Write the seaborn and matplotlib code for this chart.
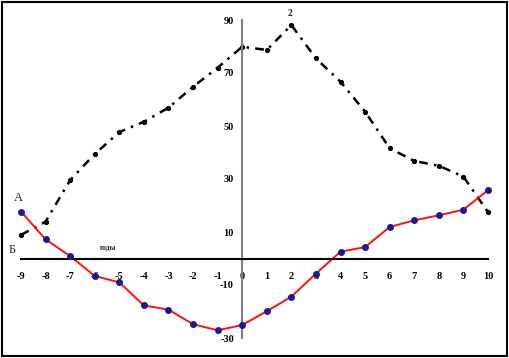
import numpy as np
import pandas as pd
import matplotlib
matplotlib.use("Agg")
import matplotlib.pyplot as plt
import seaborn as sns
from matplotlib.patches import Rectangle

sns.set_style("white")
plt.rcParams['font.family'] = ['Liberation Serif', 'DejaVu Serif']
plt.rcParams['axes.unicode_minus'] = False

years = [-9, -8, -7, -6, -5, -4, -3, -2, -1, 0, 1, 2, 3, 4, 5, 6, 7, 8, 9, 10]
series_a = [17.7, 7.2, 0.9, -6.6, -9.0, -17.7, -19.3, -24.8, -27.1, -25.1,
            -19.9, -14.4, -5.7, 2.6, 4.3, 11.9, 14.4, 16.3, 18.4, 25.8]
series_2 = [8.9, 13.9, 29.6, 39.4, 47.7, 51.6, 56.9, 64.8, 72.0, 79.9,
            78.7, 88.1, 75.5, 66.7, 55.4, 41.6, 36.8, 35.0, 30.9, 17.5]
y_ticks = [-30, -10, 10, 30, 50, 70, 90]

df = pd.DataFrame({"year": years, "a": series_a, "b": series_2})

fig = plt.figure(figsize=(5.09, 3.58), dpi=100)
ax = fig.add_axes([21 / 509, 1 - 338 / 358, 467 / 509, 318 / 358])

sns.lineplot(data=df, x="year", y="b", ax=ax, color="black", lw=1.8,
             linestyle=(0, (3.5, 2.5, 1, 2.5)), marker="o", markersize=3,
             markeredgecolor="black", clip_on=False)
sns.lineplot(data=df, x="year", y="a", ax=ax, color="#ff1010", lw=1.4,
             clip_on=False)
ax.plot(df["year"], df["a"], ls="none", marker="o", markersize=4,
        color="#1a1a8c", clip_on=False, zorder=5)

ax.set_xlim(-9, 10)
ax.set_ylim(-30, 90)
ax.set_xlabel("")
ax.set_ylabel("")

ax.spines["left"].set_position(("data", 0))
ax.spines["bottom"].set_position(("data", 0))
ax.spines["left"].set_color("#808080")
ax.spines["left"].set_linewidth(1.5)
ax.spines["bottom"].set_color("black")
ax.spines["bottom"].set_linewidth(1.5)
ax.spines["right"].set_visible(False)
ax.spines["top"].set_visible(False)

ax.set_xticks(years)
ax.set_yticks(y_ticks)
ax.tick_params(axis="x", direction="inout", length=5, width=1, pad=7,
               labelsize=7.5, colors="black")
ax.tick_params(axis="y", direction="out", length=4, width=1, color="#808080",
               pad=2, labelsize=7.5, labelcolor="black")
for lbl in ax.get_xticklabels() + ax.get_yticklabels():
    lbl.set_fontweight("bold")

ax.text(-9.1, 22.8, "А", fontsize=9, ha="center", va="center")
ax.text(-9.35, 3.2, "Б", fontsize=9, ha="center", va="center")
ax.text(1.95, 92.3, "2", fontsize=7, fontweight="bold", ha="center",
        va="center", clip_on=False)
ax.text(-5.45, 4.3, "годы", fontsize=5.5, fontweight="bold", ha="center",
        va="center")

fig.patches.append(Rectangle((0.004, 0.006), 0.992, 0.988, transform=fig.transFigure,
                             fill=False, edgecolor="black", lw=1.5))

fig.savefig("out.png", dpi=100)
